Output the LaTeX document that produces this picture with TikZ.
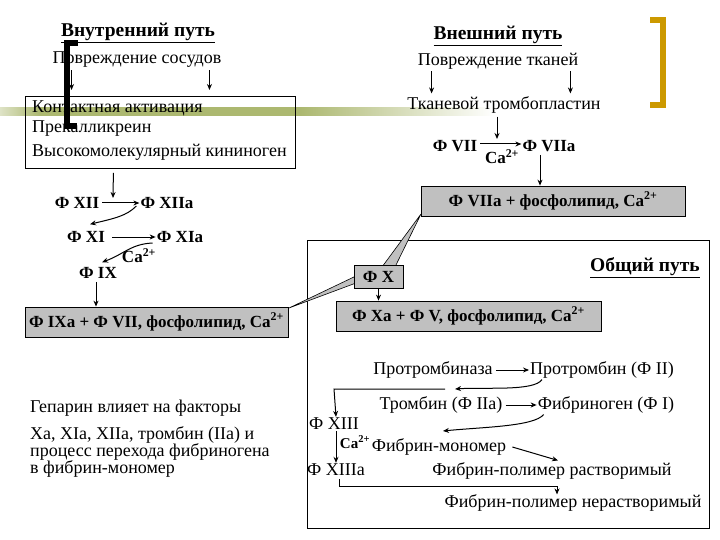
\documentclass[tikz,border=0pt]{standalone}
\usepackage{fontspec}
\setmainfont{Liberation Serif}
\usetikzlibrary{arrows.meta}
\definecolor{boxgray}{RGB}{192,192,192}
\definecolor{gold}{RGB}{204,153,0}
\definecolor{olive}{RGB}{172,184,112}
\newcommand{\ca}{Ca\textsuperscript{2+}}
\begin{document}
\begin{tikzpicture}[x=1pt,y=-1pt,
  txt/.style={inner sep=0pt,font=\fontsize{18}{21}\selectfont},
  ttl/.style={inner sep=0pt,font=\bfseries\fontsize{19.5}{22}\selectfont},
  fac/.style={inner sep=0pt,font=\bfseries\fontsize{17}{20}\selectfont},
  low/.style={inner sep=0pt,font=\fontsize{18}{21}\selectfont},
  gbox/.style={draw=black,fill=boxgray,line width=0.8pt,inner sep=0pt,font=\bfseries\fontsize{17}{20}\selectfont},
  arr/.style={line width=1pt,-{Stealth[length=6pt,width=5pt]}},
  ln/.style={line width=0.8pt},
  wedge/.style={draw=black,fill=boxgray,line width=0.6pt}
]
\useasboundingbox (0,0) rectangle (720,540);
\fill[white] (0,0) rectangle (720,540);
% decorative band
\shade[left color=olive!40,right color=olive] (0,107.5) rectangle (40,116);
\fill[olive] (40,107.5) rectangle (300,116);
\shade[left color=olive,right color=white] (300,107.5) rectangle (495,116);
% brackets
\draw[line width=6pt] (78,43.5) -- (66.5,43.5) -- (66.5,126.5) -- (77,126.5);
\draw[gold,line width=6pt] (650,20) -- (663,20) -- (663,105.5) -- (650,105.5);

% intrinsic pathway
\node[ttl] (inn) at (138,33) {\underline{Внутренний путь}};
\node[txt] (vsos) at (137,60) {Повреждение сосудов};
\node[draw,line width=0.8pt,minimum width=270pt,minimum height=72pt,anchor=north west] (cbox) at (25,96) {};
\node[txt,anchor=west] (l1) at (32,108) {Контактная активация};
\node[txt,anchor=west] (l2) at (32,129) {Прекалликреин};
\node[txt,anchor=west] (l3) at (32,152) {Высокомолекулярный кининоген};
\draw[arr] ([xshift=19pt,yshift=-2pt]vsos.south west) -- ([xshift=19pt,yshift=6pt]vsos.south west |- cbox.north);
\draw[arr] ([xshift=-12pt,yshift=-2pt]vsos.south east) -- ([xshift=-12pt,yshift=6pt]vsos.south east |- cbox.north);

\node[fac] (xii) at (77,203) {Ф XII};
\node[fac] (xiia) at (167,203) {Ф XIIa};
\coordinate (c1) at (113,198);
\draw[arr] ([xshift=-47pt,yshift=-4pt]cbox.south) -- (c1);
\draw[arr] ([xshift=3pt]xii.east) -- ([xshift=-1pt]xiia.west);
\node[fac] (xi) at (86,237) {Ф XI};
\node[fac] (xia) at (180,237) {Ф XIa};
\draw[arr] ([xshift=-4pt,yshift=-3pt]xiia.west) .. controls +(-10,10) and +(25,-6) .. ([xshift=4pt,yshift=7pt]xi.north);
\draw[arr] ([xshift=7pt]xi.east) -- ([xshift=-1pt]xia.west);
\node[fac] (ca1) at (139,256) {\ca};
\node[fac] (ix) at (98,273) {Ф IX};
\draw[arr] ([xshift=-4pt,yshift=-6pt]xia.west) .. controls +(-22,1) and +(22,-8) .. ([xshift=4pt,yshift=5pt]ix.north);
\node[gbox,minimum width=263pt,minimum height=30pt] (ixa) at (156.5,322) {Ф IXa + Ф VII, фосфолипид, \ca};
\draw[arr] ([xshift=-2pt,yshift=-3pt]ix.south) -- ([xshift=-2pt]ix.south |- ixa.north);

% extrinsic pathway
\node[ttl] (ext) at (498,36) {\underline{Внешний путь}};
\node[txt] (vtk) at (498,61) {Повреждение тканей};
\node[txt] (tromb) at (504,105) {Тканевой тромбопластин};
\draw[arr] ([xshift=14pt,yshift=-2pt]vtk.south west) -- ([xshift=14pt,yshift=3pt]vtk.south west |- tromb.north);
\draw[arr] ([xshift=-8pt,yshift=-2pt]vtk.south east) -- ([xshift=-8pt,yshift=3pt]vtk.south east |- tromb.north);
\node[fac] (vii) at (455,146) {Ф VII};
\node[fac] (viia) at (549,146) {Ф VIIa};
\coordinate (c2) at (497,139);
\draw[arr] ([xshift=-7pt,yshift=-3pt]tromb.south) -- (c2);
\draw[arr] ([xshift=3pt,yshift=2pt]vii.east) -- ([xshift=-1pt,yshift=2pt]viia.west);
\node[fac] (ca2) at (502,157) {\ca};
\node[gbox,minimum width=264pt,minimum height=30pt] (viiabox) at (553,201) {Ф VIIa + фосфолипид, \ca};
\draw[arr] ([xshift=-9pt,yshift=-3pt]viia.south) -- ([xshift=-9pt]viia.south |- viiabox.north);

% common pathway
\node[draw,line width=0.8pt,minimum width=402pt,minimum height=288pt,anchor=north west] (common) at (307,240) {};
\node[ttl,anchor=east] (obsh) at (700,268) {\underline{Общий путь}};
\coordinate (t1) at (289,308);
\coordinate (t2) at (421,214);
\fill[wedge] (t1) -- (356,276) -- (356,283) -- cycle;
\fill[wedge] (t2) -- (382,267) -- (395,267) -- cycle;
\node[gbox,minimum width=49pt,minimum height=23pt] (fx) at (378.5,276.5) {Ф X};
\node[gbox,minimum width=265pt,minimum height=30pt] (xabox) at (468.5,316) {Ф Xa + Ф V, фосфолипид, \ca};
\draw[arr] (fx.south) -- (fx.south |- xabox.north);

\node[low] (protr) at (433,370) {Протромбиназа};
\node[low] (prot2) at (602,370) {Протромбин (Ф II)};
\draw[arr] ([xshift=3pt]protr.east) -- ([xshift=-1pt]prot2.west);
\coordinate (c3) at (445,389);
\draw[arr] ([xshift=12pt,yshift=-1pt]prot2.south west) .. controls +(-8,12) and +(30,-2) .. ([xshift=10pt]c3);
\node[low] (thr) at (441,405) {Тромбин (Ф IIa)};
\node[low] (fib) at (606,405) {Фибриноген (Ф I)};
\draw[arr] ([xshift=3pt]thr.east) -- ([xshift=-1pt]fib.west);
\node[low] (fxiii) at (334,424) {Ф XIII};
\draw[arr] (c3) -- (c3 -| fxiii.north) -- ([yshift=1pt]fxiii.north -| 336,0);
\node[low] (mono) at (439,447) {Фибрин-мономер};
\coordinate (c4) at (443,431);
\draw[arr] ([xshift=6pt,yshift=-1pt]fib.south west) .. controls +(-10,12) and +(40,-4) .. (c4);
\node[low] (fxiiia) at (336,470) {Ф XIIIa};
\draw[arr] ([yshift=-1pt]fxiii.south -| 336,0) -- ([yshift=1pt]fxiiia.north -| 336,0);
\node[fac,font=\bfseries\fontsize{15}{17}\selectfont] (ca3) at (355,442) {\ca};
\node[low] (polr) at (552,471) {Фибрин-полимер растворимый};
\draw[arr] ([xshift=6pt]mono.east) -- ([xshift=6pt,yshift=2pt]polr.north);
\node[low] (poln) at (573,503) {Фибрин-полимер нерастворимый};
\coordinate (c5) at (557,486);
\draw[ln] ([yshift=-3pt]fxiiia.south -| 339,0) -- (339,486) -- (c5);
\draw[arr] (c5) -- (c5 |- poln.north);

% heparin note
\node[txt,anchor=west] (h1) at (30,408) {Гепарин влияет на факторы};
\node[txt,anchor=west,align=left,font=\fontsize{18}{17}\selectfont] (h2) at (30,452) {Xa, XIa, XIIa, тромбин (IIa) и\\процесс перехода фибриногена\\в фибрин-мономер};
\end{tikzpicture}
\end{document}
